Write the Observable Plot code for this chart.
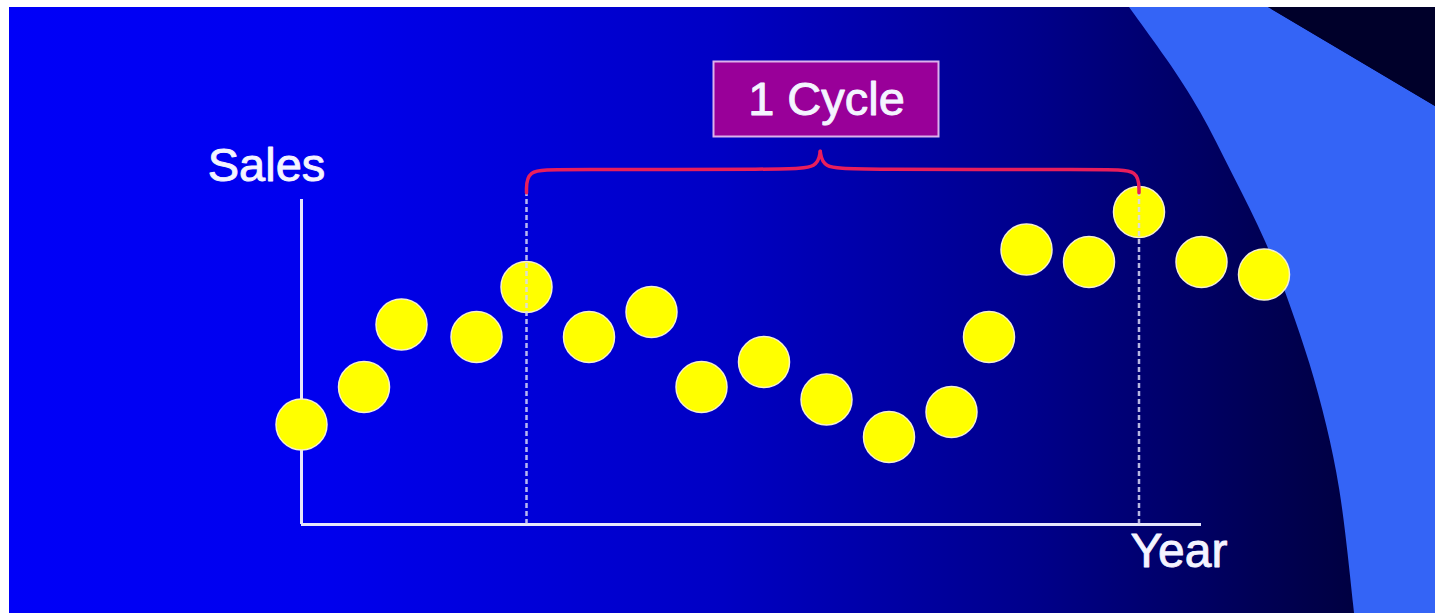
<!DOCTYPE html>
<html>
<head>
<meta charset="utf-8">
<script src="https://cdn.jsdelivr.net/npm/d3@7"></script>
<script src="https://cdn.jsdelivr.net/npm/@observablehq/plot@0.6"></script>
<style>
  html, body { margin: 0; padding: 0; background: #ffffff; }
  #stage { position: relative; width: 1435px; height: 613px; overflow: hidden; }
  #stage > svg { position: absolute; left: 0; top: 0; }
</style>
</head>
<body>
<div id="stage"></div>
<script>
// Time steps (years) and sales readings
const years = [0, 5, 8, 14, 18, 23, 28, 32, 37, 42, 47, 52, 55, 58, 63, 67, 72, 77];
const sales = [8, 11, 16, 15, 19, 15, 17, 11, 13, 10, 7, 9, 15, 22, 21, 25, 21, 20];

// One business cycle: peak to peak
const cycleStart = 18;
const cycleEnd = 67;

// Axis extents
const yearAxisEnd = 72;
const salesAxisTop = 26;

// Texts
const salesLabel = "Sales";
const yearLabel = "Year";
const cycleLabel = "1 Cycle";

const W = 1435, H = 613;
const stage = document.getElementById("stage");

// ---- Slide background: horizontal blue gradient with a light sweeping band ----
const bg = d3.create("svg").attr("width", W).attr("height", H);
const defs = bg.append("defs");
const grad = defs.append("linearGradient").attr("id", "bgGrad")
  .attr("x1", 0).attr("x2", 1).attr("y1", 0).attr("y2", 0);
[[0, "#0000f8"], [0.22, "#0000ee"], [0.5, "#0000c4"], [0.72, "#00008a"], [0.88, "#000054"], [1, "#000030"]]
  .forEach(([o, c]) => grad.append("stop").attr("offset", o).attr("stop-color", c));
bg.append("rect").attr("x", 9).attr("y", 7).attr("width", W - 9).attr("height", H - 7).attr("fill", "url(#bgGrad)");

const bandEdge = [[1129, 7], [1167, 59], [1200, 109], [1233, 176], [1267, 242], [1290, 305], [1310, 363], [1327, 426], [1340, 488], [1348, 556], [1354, 613]];
const edgePath = d3.line().curve(d3.curveBasis)(bandEdge);
bg.append("path")
  .attr("d", edgePath + "L" + W + ",613L" + W + ",106L1268,7Z")
  .attr("fill", "#3464f6");
bg.append("path").attr("d", "M1268,7L" + W + ",7L" + W + ",106Z").attr("fill", "#00002a");
stage.appendChild(bg.node());

// ---- Chart ----
const points = years.map((t, i) => ({year: t, sales: sales[i]}));
const tip = (cycleStart + cycleEnd) / 2 - 1;   // brace point
const braceY = 28.4;
const braceHalves = [
  [[cycleStart, 26.55], [cycleStart, braceY], [cycleStart + 2.5, braceY], [tip - 2.5, braceY], [tip - 0.2, braceY + 0.15], [tip, 29.85]],
  [[cycleEnd, 26.55], [cycleEnd, braceY], [cycleEnd - 2.5, braceY], [tip + 2.5, braceY], [tip + 0.2, braceY + 0.15], [tip, 29.85]]
].flatMap((half, k) => half.map(([x, y]) => ({x, y, side: k})));

const boxCenter = tip + 0.5;
const font = "'Liberation Sans', Arial, Helvetica, sans-serif";
const ink = "#f4f4ff";
const textStyle = {fill: ink, stroke: ink, strokeWidth: 0.9, fontSize: 47};

const chart = Plot.plot({
  width: W,
  height: H,
  margin: 0,
  x: {domain: [0, 77], range: [301, 1263.5], axis: null},
  y: {domain: [0, 26], range: [524, 199], axis: null},
  style: {background: "transparent", overflow: "visible", fontFamily: font},
  marks: [
    // axes
    Plot.ruleY([0], {x1: 0, x2: yearAxisEnd, stroke: "#e6e6fa", strokeWidth: 3}),
    Plot.ruleX([0], {y1: 0, y2: salesAxisTop, stroke: "#e6e6fa", strokeWidth: 3}),
    // sales observations
    Plot.dot(points, {x: "year", y: "sales", r: 25.5, fill: "#ffff00", stroke: "#f6f0cc", strokeWidth: 1.5}),
    // cycle boundaries
    Plot.ruleX([cycleStart, cycleEnd], {y1: 0, y2: 26.5, stroke: "#d8d8f6", strokeWidth: 2.5, strokeDasharray: "5,3", strokeOpacity: 0.85}),
    // curly brace spanning one cycle
    Plot.line(braceHalves, {x: "x", y: "y", z: "side", curve: "basis", stroke: "#e81e5c", strokeWidth: 3.5, strokeLinecap: "round"}),
    // cycle label box
    Plot.rect([cycleLabel], {x1: boxCenter - 9, x2: boxCenter + 9, y1: 31, y2: 37, fill: "#990099", stroke: "#dcb0ec", strokeWidth: 2}),
    Plot.text([cycleLabel], {x: boxCenter, y: 34, text: d => d, ...textStyle, lineAnchor: "middle", textAnchor: "middle"}),
    // axis titles
    Plot.text([salesLabel], {x: 0, y: salesAxisTop, dx: -35, dy: -19, text: d => d, ...textStyle, lineAnchor: "bottom", textAnchor: "middle"}),
    Plot.text([yearLabel], {x: yearAxisEnd, y: 0, dx: -71, dy: 42, text: d => d, ...textStyle, fontSize: 48, lineAnchor: "bottom", textAnchor: "start"})
  ]
});
stage.appendChild(chart);
</script>
</body>
</html>
